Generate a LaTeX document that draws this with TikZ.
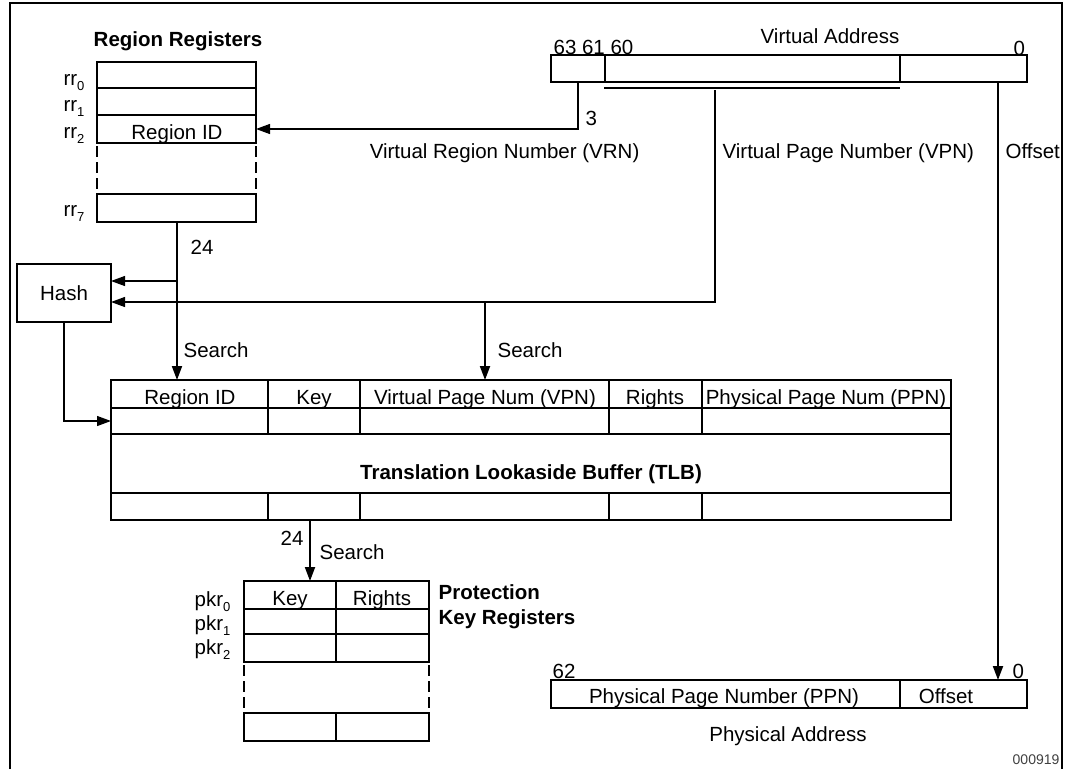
\documentclass[tikz,border=0pt]{standalone}
\usepackage{fontspec}
\setmainfont{Liberation Sans}
\usetikzlibrary{arrows.meta}
\newcommand\regsub[1]{\raisebox{-0.25em}{\fontsize{13}{13}\selectfont #1}}
\begin{document}
\begin{tikzpicture}[x=1pt,y=-1pt, line width=1.2pt,
  lbl/.style={inner sep=0pt, anchor=base, font=\fontsize{20.5}{24}\selectfont},
  blbl/.style={lbl, font=\fontsize{20.5}{24}\selectfont\bfseries},
  cell/.style={draw, rectangle, inner sep=0pt, outer sep=0pt},
  dsh/.style={dash pattern=on 11pt off 5pt, dash phase=13pt},
  arr/.style={-{Triangle[length=14pt,width=10pt]}},
  heavy/.style={line width=1.9pt}]
\useasboundingbox (0,0) rectangle (1067,769);
% frame
\draw[line width=1.5pt] (10,769) -- (10,3) -- (1062,3) -- (1062,769);

% ---------------- Region registers
\node[blbl] (rrtitle) at (178,46) {Region Registers};
\node[cell, minimum width=159pt, minimum height=26pt] (rr0) at (176.5,75) {};
\node[cell, minimum width=159pt, minimum height=27pt] (rr1) at (176.5,101.5) {};
\node[cell, minimum width=159pt, minimum height=28pt] (rr2) at (176.5,129) {};
\node[cell, minimum width=159pt, minimum height=28pt] (rr7) at (176.5,208) {};
\draw[dsh] (rr2.south west) -- (rr7.north west);
\draw[dsh] (rr2.south east) -- (rr7.north east);
\node[lbl] (rrid) at (177,139) {Region ID};
\node[lbl, anchor=base east] (lr0) at (85,85) {rr\regsub{0}};
\node[lbl, anchor=base east] (lr1) at (85,111) {rr\regsub{1}};
\node[lbl, anchor=base east] (lr2) at (85,138) {rr\regsub{2}};
\node[lbl, anchor=base east] (lr7) at (85,216) {rr\regsub{7}};

% ---------------- Virtual address
\node[cell, minimum width=476pt, minimum height=27pt] (va) at (789,68.5) {};
\draw[heavy] (605,55) -- (605,82);
\draw[heavy] (900,55) -- (900,82);
\draw[heavy] (604,88) -- (900,88);
\node[lbl, anchor=base west] (b63) at (553,54) {63 61 60};
\node[lbl] (vatitle) at (830,43) {Virtual Address};
\node[lbl, anchor=base west] (b0) at (1013,55) {0};

\coordinate (vrnsrc) at (578,82);
\coordinate (vpnsrc) at (715,90);
\coordinate (offsrc) at (998,82);
\draw[arr] (vrnsrc) |- (rr2.east);
\node[lbl, anchor=base west] (n3) at (585,125) {3};
\node[lbl, anchor=base east] (vrn) at (640,158) {Virtual Region Number (VRN)};
\node[lbl, anchor=base west] (vpn) at (722,158) {Virtual Page Number (VPN)};
\node[lbl, anchor=base west] (offl) at (1005,158) {Offset};

% ---------------- Hash
\node[cell, minimum width=94pt, minimum height=58pt, font=\fontsize{20.5}{24}\selectfont] (hash) at (64,293) {Hash};
\coordinate (hashin1) at (111,281);
\coordinate (hashin2) at (111,302);
\coordinate (rrout) at (177,222);
\coordinate (rrbr) at (177,281);
\coordinate (vpnbr) at (485,302);

% ---------------- TLB
\node[cell, line width=2.5pt, minimum width=840pt, minimum height=140pt] (tlb) at (531,450) {};
\draw (111,408) -- (951,408);
\draw (111,434) -- (951,434);
\draw (111,493) -- (951,493);
\foreach \cx in {268,360,609,702}{
  \draw (\cx,380) -- (\cx,434);
  \draw (\cx,493) -- (\cx,520);
}
\node[lbl] (h1) at (190,404) {Region ID};
\node[lbl] (h2) at (314,404) {Key};
\node[lbl] (h3) at (485,404) {Virtual Page Num (VPN)};
\node[lbl] (h4) at (655,404) {Rights};
\node[lbl] (h5) at (826,404) {Physical Page Num (PPN)};
\node[blbl] (tlbtitle) at (531,479) {Translation Lookaside Buffer (TLB)};
\coordinate (tlbin) at (111,421);

\draw[arr, heavy] (rrout) -- (rrout |- tlb.north);
\draw[arr] (rrbr) -- (hashin1);
\draw[arr] (vpnsrc) |- (hashin2);
\draw[arr, heavy] (vpnbr) -- (vpnbr |- tlb.north);
\draw[arr] (hash.south) |- (tlbin);
\node[lbl, anchor=base west] (n24a) at (190,254) {24};
\node[lbl, anchor=base west] (s1) at (183,357) {Search};
\node[lbl, anchor=base west] (s2) at (497,357) {Search};

% ---------------- Protection key registers
\node[cell, minimum width=185pt, minimum height=28pt] (pkr0) at (336.5,595) {};
\node[cell, minimum width=185pt, minimum height=25pt] (pkr1) at (336.5,621.5) {};
\node[cell, minimum width=185pt, minimum height=28pt] (pkr2) at (336.5,648) {};
\node[cell, minimum width=185pt, minimum height=28pt] (pkrn) at (336.5,727) {};
\draw (336,581) -- (336,662);
\draw (336,713) -- (336,741);
\draw[dsh] (pkr2.south west) -- (pkrn.north west);
\draw[dsh] (pkr2.south east) -- (pkrn.north east);
\node[lbl] (pk1) at (290,605) {Key};
\node[lbl] (pk2) at (382,605) {Rights};
\node[lbl, anchor=base east] (lp0) at (231,606) {pkr\regsub{0}};
\node[lbl, anchor=base east] (lp1) at (231,630) {pkr\regsub{1}};
\node[lbl, anchor=base east] (lp2) at (231,654) {pkr\regsub{2}};
\node[blbl, anchor=base west] (pt1) at (438,599) {Protection};
\node[blbl, anchor=base west] (pt2) at (438,624) {Key Registers};

\coordinate (keyout) at (310,520);
\draw[arr, heavy] (keyout) -- (keyout |- pkr0.north);
\node[lbl, anchor=base east] (n24b) at (304,545) {24};
\node[lbl, anchor=base west] (s3) at (319,559) {Search};

% ---------------- Physical address
\node[cell, minimum width=476pt, minimum height=28pt] (pa) at (789,694) {};
\draw (900,680) -- (900,708);
\node[lbl, anchor=base west] (b62) at (552,678) {62};
\node[lbl, anchor=base west] (b0p) at (1012,678) {0};
\node[lbl] (ppn) at (724,703) {Physical Page Number (PPN)};
\node[lbl] (poff) at (946,703) {Offset};
\node[lbl] (patitle) at (788,741) {Physical Address};
\draw[arr, heavy] (offsrc) -- (offsrc |- pa.north);

\node[inner sep=0pt, anchor=base east, font=\fontsize{14}{16}\selectfont, text=black!75] (fig) at (1060,764) {000919};
\end{tikzpicture}
\end{document}
